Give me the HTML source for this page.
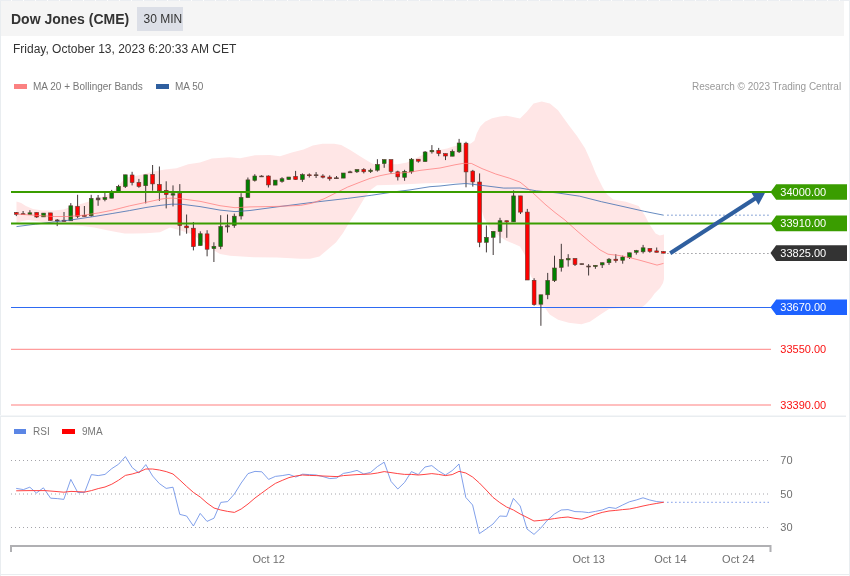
<!DOCTYPE html>
<html><head><meta charset="utf-8"><title>Dow Jones (CME)</title>
<style>
html,body{margin:0;padding:0;background:#fff;}
body{width:850px;height:576px;position:relative;overflow:hidden;font-family:"Liberation Sans",sans-serif;}
svg text{font-family:"Liberation Sans",sans-serif;}
body>*{will-change:transform;}
.frame{position:absolute;left:0;top:0;width:848px;height:576px;box-sizing:content-box;border:1px solid #e9edf0;border-top:none;border-bottom:none;}
.hdr{position:absolute;left:1px;top:1px;width:843px;height:35px;background:#f5f5f5;}
.title{position:absolute;left:11px;top:11px;font-size:14px;font-weight:bold;color:#333;line-height:16px;white-space:nowrap;}
.badge{position:absolute;left:137px;top:7px;width:39.5px;padding-left:6.5px;height:24px;background:#dcdfe7;color:#333;font-size:12px;line-height:24px;text-align:left;white-space:nowrap;}
.date{position:absolute;left:13px;top:41px;font-size:12px;color:#333;line-height:16px;white-space:nowrap;}
.lg{position:absolute;font-size:10px;color:#777;line-height:12px;white-space:nowrap;}
.sw{position:absolute;}
.sep{position:absolute;left:0;top:415px;width:846px;height:1px;background:#f4f6f8;border-bottom:1px solid #e9edf0;}
</style></head><body>
<div class="frame"></div><svg width="850" height="1" style="position:absolute;left:0;top:0"><line x1="0" x2="850" y1="0.5" y2="0.5" stroke="#ebeef2" stroke-width="1" stroke-dasharray="11,1"/></svg>
<div class="hdr"></div>
<div class="title">Dow Jones (CME)</div>
<div class="badge">30 MIN</div>
<div class="date">Friday, October 13, 2023 6:20:33 AM CET</div>
<div class="sw" style="left:13.6px;top:83.8px;width:12.8px;height:5.2px;background:#fb8181"></div>
<div class="lg" style="left:33px;top:81px">MA 20 + Bollinger Bands</div>
<div class="sw" style="left:156px;top:83.8px;width:12.8px;height:5.2px;background:#2f5f9f"></div>
<div class="lg" style="left:175px;top:81px">MA 50</div>
<div class="lg" style="right:9px;top:81px;color:#999">Research © 2023 Trading Central</div>
<div class="sep"></div><div style="position:absolute;left:0;top:574px;width:849px;height:1px;background:#e9edf0"></div>
<div class="sw" style="left:13.7px;top:429px;width:12.4px;height:4.8px;background:#5b86e5"></div>
<div class="lg" style="left:33px;top:426px">RSI</div>
<div class="sw" style="left:62.1px;top:429px;width:12.8px;height:4.8px;background:#ff0000"></div>
<div class="lg" style="left:82px;top:426px">9MA</div>
<svg width="850" height="576" viewBox="0 0 850 576" style="position:absolute;left:0;top:0">
<polygon points="16.5,201.6 21.2,203.1 25.9,205.9 32.9,208.9 42.4,210.6 54.1,210.6 63.5,209.4 70.6,207.1 82.4,203.5 94.1,200.0 105.9,195.3 112.9,191.8 117.6,186.6 122.4,181.2 127.0,177.6 141.2,174.8 152.9,171.8 164.7,169.4 176.5,168.2 188.2,164.2 200.0,162.4 211.8,158.5 229.4,157.2 240.0,158.3 255.0,155.3 270.0,155.1 280.0,156.2 291.8,152.6 303.5,149.6 312.9,145.6 322.4,143.7 334.1,143.7 341.2,144.9 350.6,150.3 360.0,156.2 369.4,162.1 374.1,164.4 383.5,163.9 397.6,164.3 407.0,162.5 415.3,158.4 421.3,155.5 429.5,151.9 439.0,150.1 447.2,148.4 453.1,146.6 461.4,144.8 470.8,143.6 474.4,140.7 476.7,133.6 480.3,126.5 485.0,121.8 492.1,118.3 500.0,116.5 506.5,115.7 520.0,118.5 526.8,111.7 533.6,103.6 541.7,101.4 549.9,103.6 558.0,110.3 568.8,125.2 577.0,136.1 585.0,148.3 590.5,160.5 596.0,174.0 602.7,187.6 606.9,194.2 613.2,199.5 625.9,201.7 638.6,205.9 645.0,215.4 649.2,223.9 655.6,233.4 659.8,235.6 664.0,234.5 664.0,279.0 663.0,283.0 660.0,288.0 654.6,293.5 651.4,298.0 646.0,304.0 643.0,306.5 638.6,308.0 621.7,308.0 609.0,309.1 600.5,314.4 589.9,321.8 581.4,324.3 568.7,322.8 558.1,319.7 549.7,314.4 544.4,307.0 534.0,305.0 533.0,279.6 531.0,276.6 529.0,270.0 526.0,257.0 524.0,253.6 520.0,246.5 512.0,243.0 506.0,240.6 500.0,236.7 491.0,229.6 484.0,217.8 481.5,209.5 479.0,190.0 476.5,184.5 468.2,183.4 458.8,183.0 444.7,183.0 425.9,183.3 411.8,184.0 394.7,184.8 377.0,185.3 371.2,189.4 364.0,198.8 357.0,210.6 350.0,221.2 343.0,232.9 335.9,242.4 326.5,250.6 319.4,256.5 310.0,258.8 300.6,258.8 277.0,257.6 253.5,257.2 230.0,255.8 220.0,254.0 214.0,250.4 207.0,244.0 201.2,241.0 193.0,234.5 180.0,230.3 170.0,227.4 160.0,232.2 145.9,233.2 134.1,233.6 124.7,233.6 117.6,232.2 105.9,229.9 94.1,227.5 82.4,225.9 70.6,225.2 58.8,224.7 47.0,222.8 37.6,221.2 28.2,220.0 21.2,221.2 16.5,223.5" fill="#ffe6e6"/>
<line x1="11" x2="771" y1="349.3" y2="349.3" stroke="#ff9c9c" stroke-width="1.25"/>
<line x1="11" x2="771" y1="405" y2="405" stroke="#ffaaaa" stroke-width="1.5"/>
<line x1="11" x2="771" y1="307.5" y2="307.5" stroke="#2e6af2" stroke-width="1"/>
<line x1="667.1" x2="770" y1="215.15" y2="215.15" stroke="#a6bbe0" stroke-width="1.5" stroke-dasharray="1.7,2.3"/>
<line x1="667.2" x2="770" y1="253.5" y2="253.5" stroke="#94949a" stroke-width="1.15" stroke-dasharray="1.4,2.6"/>
<line x1="16.3" x2="16.3" y1="212.0" y2="216.1" stroke="#403838" stroke-width="1"/>
<rect x="14.4" y="212.5" width="3.8" height="1.8" fill="#ff0000" stroke="#5a3a30" stroke-width="0.6"/>
<line x1="23.1" x2="23.1" y1="211.0" y2="214.7" stroke="#403838" stroke-width="1"/>
<rect x="21.2" y="213.7" width="3.8" height="1.0" fill="#ff0000" stroke="#5a3a30" stroke-width="0.6"/>
<line x1="29.9" x2="29.9" y1="210.2" y2="214.5" stroke="#403838" stroke-width="1"/>
<rect x="28.0" y="212.8" width="3.8" height="1.7" fill="#008000" stroke="#5a3a30" stroke-width="0.6"/>
<line x1="36.7" x2="36.7" y1="212.5" y2="217.9" stroke="#403838" stroke-width="1"/>
<rect x="34.8" y="212.5" width="3.8" height="4.5" fill="#ff0000" stroke="#5a3a30" stroke-width="0.6"/>
<line x1="43.6" x2="43.6" y1="213.1" y2="216.9" stroke="#403838" stroke-width="1"/>
<rect x="41.7" y="213.1" width="3.8" height="3.8" fill="#008000" stroke="#5a3a30" stroke-width="0.6"/>
<line x1="50.4" x2="50.4" y1="212.9" y2="220.4" stroke="#403838" stroke-width="1"/>
<rect x="48.5" y="212.9" width="3.8" height="7.5" fill="#ff0000" stroke="#5a3a30" stroke-width="0.6"/>
<line x1="57.2" x2="57.2" y1="219.0" y2="226.1" stroke="#403838" stroke-width="1"/>
<rect x="55.3" y="220.0" width="3.8" height="0.9" fill="#555050" stroke="#5a3a30" stroke-width="0.6"/>
<line x1="64.0" x2="64.0" y1="212.0" y2="221.4" stroke="#403838" stroke-width="1"/>
<rect x="62.1" y="220.2" width="3.8" height="1.2" fill="#ff0000" stroke="#5a3a30" stroke-width="0.6"/>
<line x1="70.8" x2="70.8" y1="203.1" y2="220.8" stroke="#403838" stroke-width="1"/>
<rect x="68.9" y="205.8" width="3.8" height="15.0" fill="#008000" stroke="#5a3a30" stroke-width="0.6"/>
<line x1="77.6" x2="77.6" y1="194.8" y2="218.1" stroke="#403838" stroke-width="1"/>
<rect x="75.7" y="206.4" width="3.8" height="10.0" fill="#ff0000" stroke="#5a3a30" stroke-width="0.6"/>
<line x1="84.4" x2="84.4" y1="206.0" y2="216.4" stroke="#403838" stroke-width="1"/>
<rect x="82.5" y="215.3" width="3.8" height="1.1" fill="#ff0000" stroke="#5a3a30" stroke-width="0.6"/>
<line x1="91.2" x2="91.2" y1="194.8" y2="216.7" stroke="#403838" stroke-width="1"/>
<rect x="89.3" y="198.4" width="3.8" height="17.3" fill="#008000" stroke="#5a3a30" stroke-width="0.6"/>
<line x1="98.1" x2="98.1" y1="195.0" y2="205.8" stroke="#403838" stroke-width="1"/>
<rect x="96.2" y="198.0" width="3.8" height="1.9" fill="#555050" stroke="#5a3a30" stroke-width="0.6"/>
<line x1="104.9" x2="104.9" y1="193.0" y2="201.3" stroke="#403838" stroke-width="1"/>
<rect x="103.0" y="197.6" width="3.8" height="1.9" fill="#008000" stroke="#5a3a30" stroke-width="0.6"/>
<line x1="111.7" x2="111.7" y1="189.9" y2="198.2" stroke="#403838" stroke-width="1"/>
<rect x="109.8" y="192.5" width="3.8" height="5.7" fill="#008000" stroke="#5a3a30" stroke-width="0.6"/>
<line x1="118.5" x2="118.5" y1="184.8" y2="191.3" stroke="#403838" stroke-width="1"/>
<rect x="116.6" y="186.4" width="3.8" height="4.9" fill="#008000" stroke="#5a3a30" stroke-width="0.6"/>
<line x1="125.3" x2="125.3" y1="174.8" y2="188.0" stroke="#403838" stroke-width="1"/>
<rect x="123.4" y="174.8" width="3.8" height="11.8" fill="#008000" stroke="#5a3a30" stroke-width="0.6"/>
<line x1="132.1" x2="132.1" y1="171.8" y2="185.4" stroke="#403838" stroke-width="1"/>
<rect x="130.2" y="175.0" width="3.8" height="7.5" fill="#ff0000" stroke="#5a3a30" stroke-width="0.6"/>
<line x1="138.9" x2="138.9" y1="178.9" y2="187.8" stroke="#403838" stroke-width="1"/>
<rect x="137.0" y="182.5" width="3.8" height="3.9" fill="#ff0000" stroke="#5a3a30" stroke-width="0.6"/>
<line x1="145.7" x2="145.7" y1="174.8" y2="203.4" stroke="#403838" stroke-width="1"/>
<rect x="143.8" y="174.8" width="3.8" height="10.9" fill="#008000" stroke="#5a3a30" stroke-width="0.6"/>
<line x1="152.6" x2="152.6" y1="165.0" y2="190.7" stroke="#403838" stroke-width="1"/>
<rect x="150.7" y="174.4" width="3.8" height="9.5" fill="#ff0000" stroke="#5a3a30" stroke-width="0.6"/>
<line x1="159.4" x2="159.4" y1="166.5" y2="200.8" stroke="#403838" stroke-width="1"/>
<rect x="157.5" y="184.5" width="3.8" height="6.2" fill="#ff0000" stroke="#5a3a30" stroke-width="0.6"/>
<line x1="166.2" x2="166.2" y1="181.3" y2="208.4" stroke="#403838" stroke-width="1"/>
<rect x="164.3" y="190.4" width="3.8" height="4.2" fill="#ff0000" stroke="#5a3a30" stroke-width="0.6"/>
<line x1="173.0" x2="173.0" y1="185.4" y2="206.4" stroke="#403838" stroke-width="1"/>
<rect x="171.1" y="193.7" width="3.8" height="1.4" fill="#008000" stroke="#5a3a30" stroke-width="0.6"/>
<line x1="179.8" x2="179.8" y1="184.1" y2="235.6" stroke="#403838" stroke-width="1"/>
<rect x="177.9" y="193.6" width="3.8" height="31.9" fill="#ff0000" stroke="#5a3a30" stroke-width="0.6"/>
<line x1="186.6" x2="186.6" y1="214.5" y2="233.7" stroke="#403838" stroke-width="1"/>
<rect x="184.7" y="226.0" width="3.8" height="1.8" fill="#ff0000" stroke="#5a3a30" stroke-width="0.6"/>
<line x1="193.4" x2="193.4" y1="222.0" y2="250.4" stroke="#403838" stroke-width="1"/>
<rect x="191.5" y="228.2" width="3.8" height="18.4" fill="#ff0000" stroke="#5a3a30" stroke-width="0.6"/>
<line x1="200.3" x2="200.3" y1="231.3" y2="245.6" stroke="#403838" stroke-width="1"/>
<rect x="198.4" y="233.7" width="3.8" height="11.9" fill="#008000" stroke="#5a3a30" stroke-width="0.6"/>
<line x1="207.1" x2="207.1" y1="230.2" y2="256.3" stroke="#403838" stroke-width="1"/>
<rect x="205.2" y="233.9" width="3.8" height="15.3" fill="#ff0000" stroke="#5a3a30" stroke-width="0.6"/>
<line x1="213.9" x2="213.9" y1="242.3" y2="262.0" stroke="#403838" stroke-width="1"/>
<rect x="212.0" y="246.3" width="3.8" height="2.3" fill="#008000" stroke="#5a3a30" stroke-width="0.6"/>
<line x1="220.7" x2="220.7" y1="215.2" y2="249.2" stroke="#403838" stroke-width="1"/>
<rect x="218.8" y="226.5" width="3.8" height="20.1" fill="#008000" stroke="#5a3a30" stroke-width="0.6"/>
<line x1="227.5" x2="227.5" y1="214.5" y2="232.6" stroke="#403838" stroke-width="1"/>
<rect x="225.6" y="225.8" width="3.8" height="1.1" fill="#555050" stroke="#5a3a30" stroke-width="0.6"/>
<line x1="234.3" x2="234.3" y1="213.6" y2="227.8" stroke="#403838" stroke-width="1"/>
<rect x="232.4" y="216.2" width="3.8" height="9.2" fill="#008000" stroke="#5a3a30" stroke-width="0.6"/>
<line x1="241.1" x2="241.1" y1="193.2" y2="219.5" stroke="#403838" stroke-width="1"/>
<rect x="239.2" y="197.5" width="3.8" height="18.5" fill="#008000" stroke="#5a3a30" stroke-width="0.6"/>
<line x1="247.9" x2="247.9" y1="177.5" y2="197.6" stroke="#403838" stroke-width="1"/>
<rect x="246.0" y="179.9" width="3.8" height="17.7" fill="#008000" stroke="#5a3a30" stroke-width="0.6"/>
<line x1="254.8" x2="254.8" y1="174.2" y2="181.6" stroke="#403838" stroke-width="1"/>
<rect x="252.9" y="176.0" width="3.8" height="4.4" fill="#008000" stroke="#5a3a30" stroke-width="0.6"/>
<line x1="261.6" x2="261.6" y1="175.2" y2="176.8" stroke="#403838" stroke-width="1"/>
<rect x="259.7" y="176.0" width="3.8" height="0.9" fill="#555050" stroke="#5a3a30" stroke-width="0.6"/>
<line x1="268.4" x2="268.4" y1="175.4" y2="187.5" stroke="#403838" stroke-width="1"/>
<rect x="266.5" y="176.0" width="3.8" height="8.9" fill="#ff0000" stroke="#5a3a30" stroke-width="0.6"/>
<line x1="275.2" x2="275.2" y1="180.1" y2="185.1" stroke="#403838" stroke-width="1"/>
<rect x="273.3" y="180.1" width="3.8" height="5.0" fill="#008000" stroke="#5a3a30" stroke-width="0.6"/>
<line x1="282.0" x2="282.0" y1="177.2" y2="182.7" stroke="#403838" stroke-width="1"/>
<rect x="280.1" y="178.7" width="3.8" height="2.6" fill="#008000" stroke="#5a3a30" stroke-width="0.6"/>
<line x1="288.8" x2="288.8" y1="177.0" y2="179.6" stroke="#403838" stroke-width="1"/>
<rect x="286.9" y="177.0" width="3.8" height="2.6" fill="#008000" stroke="#5a3a30" stroke-width="0.6"/>
<line x1="295.6" x2="295.6" y1="170.9" y2="179.6" stroke="#403838" stroke-width="1"/>
<rect x="293.7" y="176.4" width="3.8" height="3.2" fill="#ff0000" stroke="#5a3a30" stroke-width="0.6"/>
<line x1="302.4" x2="302.4" y1="173.4" y2="181.9" stroke="#403838" stroke-width="1"/>
<rect x="300.5" y="174.6" width="3.8" height="5.0" fill="#008000" stroke="#5a3a30" stroke-width="0.6"/>
<line x1="309.3" x2="309.3" y1="173.4" y2="177.5" stroke="#403838" stroke-width="1"/>
<rect x="307.4" y="174.8" width="3.8" height="0.9" fill="#ff0000" stroke="#5a3a30" stroke-width="0.6"/>
<line x1="316.1" x2="316.1" y1="172.1" y2="178.0" stroke="#403838" stroke-width="1"/>
<rect x="314.2" y="174.8" width="3.8" height="0.9" fill="#555050" stroke="#5a3a30" stroke-width="0.6"/>
<line x1="322.9" x2="322.9" y1="174.2" y2="178.4" stroke="#403838" stroke-width="1"/>
<rect x="321.0" y="176.0" width="3.8" height="1.2" fill="#ff0000" stroke="#5a3a30" stroke-width="0.6"/>
<line x1="329.7" x2="329.7" y1="175.4" y2="180.7" stroke="#403838" stroke-width="1"/>
<rect x="327.8" y="177.1" width="3.8" height="1.7" fill="#ff0000" stroke="#5a3a30" stroke-width="0.6"/>
<line x1="336.5" x2="336.5" y1="176.0" y2="178.7" stroke="#403838" stroke-width="1"/>
<rect x="334.6" y="177.8" width="3.8" height="0.9" fill="#555050" stroke="#5a3a30" stroke-width="0.6"/>
<line x1="343.3" x2="343.3" y1="173.0" y2="178.1" stroke="#403838" stroke-width="1"/>
<rect x="341.4" y="173.0" width="3.8" height="5.1" fill="#008000" stroke="#5a3a30" stroke-width="0.6"/>
<line x1="350.1" x2="350.1" y1="170.7" y2="172.8" stroke="#403838" stroke-width="1"/>
<rect x="348.2" y="171.8" width="3.8" height="1.0" fill="#555050" stroke="#5a3a30" stroke-width="0.6"/>
<line x1="356.9" x2="356.9" y1="169.5" y2="173.0" stroke="#403838" stroke-width="1"/>
<rect x="355.1" y="169.5" width="3.8" height="2.3" fill="#008000" stroke="#5a3a30" stroke-width="0.6"/>
<line x1="363.8" x2="363.8" y1="168.1" y2="173.4" stroke="#403838" stroke-width="1"/>
<rect x="361.9" y="169.5" width="3.8" height="2.3" fill="#ff0000" stroke="#5a3a30" stroke-width="0.6"/>
<line x1="370.6" x2="370.6" y1="168.6" y2="173.0" stroke="#403838" stroke-width="1"/>
<rect x="368.7" y="170.2" width="3.8" height="1.4" fill="#008000" stroke="#5a3a30" stroke-width="0.6"/>
<line x1="377.4" x2="377.4" y1="159.2" y2="171.6" stroke="#403838" stroke-width="1"/>
<rect x="375.5" y="164.5" width="3.8" height="5.7" fill="#008000" stroke="#5a3a30" stroke-width="0.6"/>
<line x1="384.2" x2="384.2" y1="159.6" y2="167.8" stroke="#403838" stroke-width="1"/>
<rect x="382.3" y="159.6" width="3.8" height="4.0" fill="#008000" stroke="#5a3a30" stroke-width="0.6"/>
<line x1="391.0" x2="391.0" y1="159.6" y2="173.7" stroke="#403838" stroke-width="1"/>
<rect x="389.1" y="159.6" width="3.8" height="11.8" fill="#ff0000" stroke="#5a3a30" stroke-width="0.6"/>
<line x1="397.8" x2="397.8" y1="170.7" y2="180.5" stroke="#403838" stroke-width="1"/>
<rect x="395.9" y="171.8" width="3.8" height="5.1" fill="#ff0000" stroke="#5a3a30" stroke-width="0.6"/>
<line x1="404.6" x2="404.6" y1="169.8" y2="180.8" stroke="#403838" stroke-width="1"/>
<rect x="402.7" y="171.4" width="3.8" height="5.9" fill="#008000" stroke="#5a3a30" stroke-width="0.6"/>
<line x1="411.5" x2="411.5" y1="158.0" y2="173.7" stroke="#403838" stroke-width="1"/>
<rect x="409.6" y="159.2" width="3.8" height="12.6" fill="#008000" stroke="#5a3a30" stroke-width="0.6"/>
<line x1="418.3" x2="418.3" y1="159.2" y2="162.7" stroke="#403838" stroke-width="1"/>
<rect x="416.4" y="159.2" width="3.8" height="2.0" fill="#ff0000" stroke="#5a3a30" stroke-width="0.6"/>
<line x1="425.1" x2="425.1" y1="151.0" y2="161.6" stroke="#403838" stroke-width="1"/>
<rect x="423.2" y="152.0" width="3.8" height="9.6" fill="#008000" stroke="#5a3a30" stroke-width="0.6"/>
<line x1="431.9" x2="431.9" y1="145.1" y2="153.6" stroke="#403838" stroke-width="1"/>
<rect x="430.0" y="150.3" width="3.8" height="1.5" fill="#008000" stroke="#5a3a30" stroke-width="0.6"/>
<line x1="438.7" x2="438.7" y1="147.9" y2="156.2" stroke="#403838" stroke-width="1"/>
<rect x="436.8" y="150.3" width="3.8" height="3.3" fill="#ff0000" stroke="#5a3a30" stroke-width="0.6"/>
<line x1="445.5" x2="445.5" y1="153.6" y2="160.1" stroke="#403838" stroke-width="1"/>
<rect x="443.6" y="153.6" width="3.8" height="2.4" fill="#ff0000" stroke="#5a3a30" stroke-width="0.6"/>
<line x1="452.3" x2="452.3" y1="149.5" y2="156.2" stroke="#403838" stroke-width="1"/>
<rect x="450.4" y="151.3" width="3.8" height="4.9" fill="#008000" stroke="#5a3a30" stroke-width="0.6"/>
<line x1="459.1" x2="459.1" y1="138.9" y2="153.0" stroke="#403838" stroke-width="1"/>
<rect x="457.2" y="143.0" width="3.8" height="8.8" fill="#008000" stroke="#5a3a30" stroke-width="0.6"/>
<line x1="466.0" x2="466.0" y1="141.8" y2="187.3" stroke="#403838" stroke-width="1"/>
<rect x="464.1" y="143.2" width="3.8" height="28.7" fill="#ff0000" stroke="#5a3a30" stroke-width="0.6"/>
<line x1="472.8" x2="472.8" y1="169.9" y2="186.6" stroke="#403838" stroke-width="1"/>
<rect x="470.9" y="171.1" width="3.8" height="10.8" fill="#ff0000" stroke="#5a3a30" stroke-width="0.6"/>
<line x1="479.6" x2="479.6" y1="173.4" y2="247.2" stroke="#403838" stroke-width="1"/>
<rect x="477.7" y="182.0" width="3.8" height="60.3" fill="#ff0000" stroke="#5a3a30" stroke-width="0.6"/>
<line x1="486.4" x2="486.4" y1="225.5" y2="252.4" stroke="#403838" stroke-width="1"/>
<rect x="484.5" y="237.3" width="3.8" height="5.0" fill="#008000" stroke="#5a3a30" stroke-width="0.6"/>
<line x1="493.2" x2="493.2" y1="231.3" y2="255.0" stroke="#403838" stroke-width="1"/>
<rect x="491.3" y="231.3" width="3.8" height="6.0" fill="#008000" stroke="#5a3a30" stroke-width="0.6"/>
<line x1="500.0" x2="500.0" y1="217.8" y2="243.2" stroke="#403838" stroke-width="1"/>
<rect x="498.1" y="220.7" width="3.8" height="10.7" fill="#008000" stroke="#5a3a30" stroke-width="0.6"/>
<line x1="506.8" x2="506.8" y1="220.7" y2="237.8" stroke="#403838" stroke-width="1"/>
<rect x="504.9" y="220.7" width="3.8" height="1.2" fill="#ff0000" stroke="#5a3a30" stroke-width="0.6"/>
<line x1="513.6" x2="513.6" y1="190.4" y2="221.9" stroke="#403838" stroke-width="1"/>
<rect x="511.7" y="195.9" width="3.8" height="26.0" fill="#008000" stroke="#5a3a30" stroke-width="0.6"/>
<line x1="520.5" x2="520.5" y1="195.9" y2="214.0" stroke="#403838" stroke-width="1"/>
<rect x="518.6" y="195.9" width="3.8" height="16.2" fill="#ff0000" stroke="#5a3a30" stroke-width="0.6"/>
<line x1="527.3" x2="527.3" y1="208.9" y2="280.0" stroke="#403838" stroke-width="1"/>
<rect x="525.4" y="212.1" width="3.8" height="67.9" fill="#ff0000" stroke="#5a3a30" stroke-width="0.6"/>
<line x1="534.1" x2="534.1" y1="278.2" y2="305.7" stroke="#403838" stroke-width="1"/>
<rect x="532.2" y="280.3" width="3.8" height="24.3" fill="#ff0000" stroke="#5a3a30" stroke-width="0.6"/>
<line x1="540.9" x2="540.9" y1="294.8" y2="325.8" stroke="#403838" stroke-width="1"/>
<rect x="539.0" y="294.8" width="3.8" height="9.4" fill="#008000" stroke="#5a3a30" stroke-width="0.6"/>
<line x1="547.7" x2="547.7" y1="272.9" y2="299.2" stroke="#403838" stroke-width="1"/>
<rect x="545.8" y="280.4" width="3.8" height="14.4" fill="#008000" stroke="#5a3a30" stroke-width="0.6"/>
<line x1="554.5" x2="554.5" y1="255.7" y2="282.0" stroke="#403838" stroke-width="1"/>
<rect x="552.6" y="268.0" width="3.8" height="12.6" fill="#008000" stroke="#5a3a30" stroke-width="0.6"/>
<line x1="561.3" x2="561.3" y1="243.8" y2="271.6" stroke="#403838" stroke-width="1"/>
<rect x="559.4" y="259.4" width="3.8" height="8.0" fill="#008000" stroke="#5a3a30" stroke-width="0.6"/>
<line x1="568.2" x2="568.2" y1="254.2" y2="266.6" stroke="#403838" stroke-width="1"/>
<rect x="566.3" y="258.5" width="3.8" height="1.4" fill="#008000" stroke="#5a3a30" stroke-width="0.6"/>
<line x1="575.0" x2="575.0" y1="258.5" y2="266.0" stroke="#403838" stroke-width="1"/>
<rect x="573.1" y="258.5" width="3.8" height="6.1" fill="#ff0000" stroke="#5a3a30" stroke-width="0.6"/>
<line x1="581.8" x2="581.8" y1="263.7" y2="264.6" stroke="#403838" stroke-width="1"/>
<rect x="579.9" y="263.7" width="3.8" height="0.9" fill="#555050" stroke="#5a3a30" stroke-width="0.6"/>
<line x1="588.6" x2="588.6" y1="264.1" y2="275.5" stroke="#403838" stroke-width="1"/>
<rect x="586.7" y="266.0" width="3.8" height="1.0" fill="#555050" stroke="#5a3a30" stroke-width="0.6"/>
<line x1="595.4" x2="595.4" y1="265.3" y2="268.8" stroke="#403838" stroke-width="1"/>
<rect x="593.5" y="265.3" width="3.8" height="1.3" fill="#008000" stroke="#5a3a30" stroke-width="0.6"/>
<line x1="602.2" x2="602.2" y1="262.7" y2="268.0" stroke="#403838" stroke-width="1"/>
<rect x="600.3" y="262.7" width="3.8" height="2.2" fill="#008000" stroke="#5a3a30" stroke-width="0.6"/>
<line x1="609.0" x2="609.0" y1="258.0" y2="264.9" stroke="#403838" stroke-width="1"/>
<rect x="607.1" y="259.2" width="3.8" height="3.5" fill="#008000" stroke="#5a3a30" stroke-width="0.6"/>
<line x1="615.8" x2="615.8" y1="254.2" y2="262.7" stroke="#403838" stroke-width="1"/>
<rect x="613.9" y="259.2" width="3.8" height="1.4" fill="#ff0000" stroke="#5a3a30" stroke-width="0.6"/>
<line x1="622.7" x2="622.7" y1="255.6" y2="263.7" stroke="#403838" stroke-width="1"/>
<rect x="620.8" y="257.0" width="3.8" height="3.3" fill="#008000" stroke="#5a3a30" stroke-width="0.6"/>
<line x1="629.5" x2="629.5" y1="252.8" y2="258.9" stroke="#403838" stroke-width="1"/>
<rect x="627.6" y="252.8" width="3.8" height="4.7" fill="#008000" stroke="#5a3a30" stroke-width="0.6"/>
<line x1="636.3" x2="636.3" y1="249.9" y2="254.6" stroke="#403838" stroke-width="1"/>
<rect x="634.4" y="250.6" width="3.8" height="1.7" fill="#008000" stroke="#5a3a30" stroke-width="0.6"/>
<line x1="643.1" x2="643.1" y1="244.9" y2="253.5" stroke="#403838" stroke-width="1"/>
<rect x="641.2" y="247.8" width="3.8" height="4.0" fill="#008000" stroke="#5a3a30" stroke-width="0.6"/>
<line x1="649.9" x2="649.9" y1="248.5" y2="252.8" stroke="#403838" stroke-width="1"/>
<rect x="648.0" y="248.5" width="3.8" height="2.8" fill="#ff0000" stroke="#5a3a30" stroke-width="0.6"/>
<line x1="656.7" x2="656.7" y1="247.5" y2="252.3" stroke="#403838" stroke-width="1"/>
<rect x="654.8" y="250.9" width="3.8" height="1.4" fill="#ff0000" stroke="#5a3a30" stroke-width="0.6"/>
<line x1="663.5" x2="663.5" y1="251.5" y2="253.2" stroke="#403838" stroke-width="1"/>
<rect x="661.6" y="251.5" width="3.8" height="1.7" fill="#ff0000" stroke="#5a3a30" stroke-width="0.6"/>
<polyline points="16.5,226.6 35.3,224.2 54.1,221.9 70.6,220.0 94.1,216.5 112.9,213.4 129.4,210.6 145.9,207.5 160.0,205.4 171.8,204.2 181.2,204.2 200.0,206.6 220.0,210.1 235.0,211.6 250.0,210.5 277.0,206.9 312.4,202.4 347.6,198.4 371.2,195.3 394.7,191.8 410.0,189.9 430.0,186.7 440.0,186.0 455.0,184.3 465.8,183.5 482.0,185.4 503.8,188.1 520.0,188.0 536.3,190.8 558.0,193.0 579.7,196.2 601.4,201.7 623.0,206.5 644.7,211.4 663.7,215.2" fill="none" stroke="#3f6db0" stroke-width="0.8"/>
<polyline points="16.5,214.1 35.3,215.3 54.1,216.5 68.2,216.5 82.4,215.3 98.8,212.9 112.9,210.1 129.4,205.9 145.9,202.4 160.0,199.3 166.0,198.4 172.0,198.1 181.2,198.8 200.0,201.3 220.0,205.7 235.0,207.7 250.0,206.9 277.0,206.4 300.6,205.4 312.4,203.1 324.0,198.8 335.9,192.9 347.6,187.1 360.0,182.2 370.0,178.4 380.0,175.7 390.0,173.7 400.0,173.0 410.0,172.2 420.0,170.4 430.0,169.2 440.0,168.0 455.0,164.8 463.0,163.4 471.3,163.4 482.0,168.6 495.7,174.0 509.2,178.1 520.0,182.1 527.0,187.7 535.0,194.8 545.0,204.2 555.0,212.5 565.0,220.1 577.0,230.9 590.0,242.0 600.0,249.9 608.0,254.2 620.0,255.6 630.0,257.7 640.0,260.3 650.0,263.1 657.0,265.1 663.5,263.4" fill="none" stroke="#ff7b7b" stroke-width="0.75"/>
<line x1="11" x2="772" y1="223.45" y2="223.45" stroke="#3a9d00" stroke-width="2.1"/>
<line x1="670.2" y1="253.3" x2="755.5" y2="198.3" stroke="#2f5f9f" stroke-width="4"/>
<polygon points="765.7,191.6 750.9,191.8 758.5,205.1" fill="#2f5f9f"/>
<line x1="11" x2="772" y1="192" y2="192" stroke="#3a9d00" stroke-width="2"/>
<polygon points="770.5,192 776.2,184.2 847,184.2 847,199.8 776.2,199.8" fill="#3a9d00"/>
<text x="780.3" y="196.0" font-size="11" fill="#fff">34000.00</text>
<polygon points="770.5,223.4 776.2,215.6 847,215.6 847,231.2 776.2,231.2" fill="#3a9d00"/>
<text x="780.3" y="227.4" font-size="11" fill="#fff">33910.00</text>
<polygon points="770.5,253.1 776.2,245.3 847,245.3 847,260.9 776.2,260.9" fill="#333333"/>
<text x="780.3" y="257.1" font-size="11" fill="#fff">33825.00</text>
<polygon points="770.5,307.2 776.2,299.4 847,299.4 847,315.0 776.2,315.0" fill="#1e62ff"/>
<text x="780.3" y="311.2" font-size="11" fill="#fff">33670.00</text>
<text x="780.3" y="353.2" font-size="11" fill="#fa1212">33550.00</text>
<text x="780.3" y="409.3" font-size="11" fill="#fa1212">33390.00</text>
<line x1="11" x2="769" y1="460.5" y2="460.5" stroke="#a4a4aa" stroke-width="1" stroke-dasharray="1,3"/>
<line x1="11" x2="769" y1="494.0" y2="494.0" stroke="#a4a4aa" stroke-width="1" stroke-dasharray="1,3"/>
<line x1="11" x2="769" y1="527.5" y2="527.5" stroke="#a4a4aa" stroke-width="1" stroke-dasharray="1,3"/>
<line x1="667" x2="769" y1="502.3" y2="502.3" stroke="#9db3ee" stroke-width="1.35" stroke-dasharray="1.6,2.42"/>
<polyline points="16.2,488.4 23.4,489.6 29.8,487.2 36.4,493.0 43.4,487.8 50.6,498.2 57.4,498.6 63.8,499.4 70.8,479.4 77.8,492.6 84.6,492.4 91.4,474.6 98.2,475.6 105.0,474.4 111.8,468.6 118.6,464.2 125.4,456.6 132.2,467.6 139.0,473.0 145.8,464.6 152.6,476.0 159.4,483.6 166.2,488.4 173.0,487.2 179.8,514.4 186.6,516.0 193.4,526.0 200.2,513.4 207.0,521.4 214.0,518.2 220.8,502.4 227.6,501.6 234.4,494.0 241.2,483.0 248.0,473.6 255.0,471.4 261.8,471.8 268.6,479.4 275.4,476.4 282.2,475.6 289.0,474.4 295.8,477.0 302.6,474.2 309.4,474.6 316.2,475.0 323.0,476.6 329.8,478.6 336.6,478.0 343.4,473.4 350.2,472.2 357.0,470.4 363.8,474.0 370.6,472.4 377.4,466.6 384.2,462.2 391.0,481.4 397.8,489.0 404.6,482.4 411.4,471.6 418.2,474.6 425.0,467.0 431.8,465.6 438.6,471.0 445.4,475.0 452.2,470.6 459.0,464.0 465.8,497.4 472.6,505.0 479.4,533.6 486.2,529.0 493.0,524.0 499.8,516.0 506.6,516.4 513.4,498.4 520.2,506.0 527.0,529.0 534.0,534.4 540.8,528.0 547.6,520.0 554.4,514.0 561.2,510.0 568.0,509.6 575.0,511.6 581.8,511.8 588.6,512.6 595.4,511.4 602.2,510.0 609.0,507.4 615.8,508.4 622.6,505.0 629.4,501.8 636.2,500.0 643.0,497.8 649.8,500.0 656.8,501.6 663.8,502.2" fill="none" stroke="#6a8fe6" stroke-width="0.85"/>
<polyline points="16.2,490.8 29.0,490.6 45.0,490.6 55.0,491.4 63.8,492.2 71.0,491.4 85.0,492.0 91.4,490.6 98.2,488.6 105.0,487.0 111.8,484.2 118.6,480.2 125.4,475.4 132.2,474.0 139.0,472.0 145.8,469.0 152.6,469.0 159.4,470.0 166.2,471.6 173.0,474.0 179.8,480.0 186.6,486.4 193.4,492.4 200.2,497.0 207.0,503.0 214.0,508.0 220.8,510.0 227.6,511.4 234.4,512.4 241.2,509.0 248.0,504.0 255.0,498.0 261.8,493.0 268.6,488.0 275.4,483.4 282.2,480.4 289.0,477.6 295.8,476.0 302.6,475.0 309.4,475.4 316.2,475.6 323.0,476.0 337.0,476.6 343.4,475.6 357.0,474.6 370.6,474.0 377.4,473.0 384.2,471.6 391.0,472.6 397.8,473.6 404.6,474.4 411.4,474.4 418.2,475.0 425.0,474.4 431.8,473.6 438.6,474.4 445.4,475.6 452.2,474.6 459.0,471.4 465.8,473.0 472.6,477.0 479.4,483.0 486.2,490.0 493.0,497.4 499.8,502.6 506.6,507.0 513.4,510.0 520.2,514.0 527.0,517.4 534.0,521.0 540.8,520.4 547.6,519.6 554.4,518.6 561.2,517.6 568.0,517.0 575.0,518.4 581.8,519.2 588.6,517.0 595.4,514.4 602.2,512.4 609.0,511.0 615.8,510.4 622.6,509.6 629.4,509.0 636.2,507.6 643.0,506.0 649.8,504.6 656.8,503.4 663.8,502.2" fill="none" stroke="#ff3a3a" stroke-width="0.95"/>
<polyline points="11,552 11,546 770.5,546 770.5,552" fill="none" stroke="#b0b0b3" stroke-width="2"/>
<text x="780.3" y="464" font-size="11" fill="#707070">70</text>
<text x="780.3" y="498" font-size="11" fill="#707070">50</text>
<text x="780.3" y="531" font-size="11" fill="#707070">30</text>
<text x="268.7" y="563.2" font-size="11" fill="#707070" text-anchor="middle">Oct 12</text>
<text x="588.7" y="563.2" font-size="11" fill="#707070" text-anchor="middle">Oct 13</text>
<text x="670.5" y="563.2" font-size="11" fill="#707070" text-anchor="middle">Oct 14</text>
<text x="738.3" y="563.2" font-size="11" fill="#707070" text-anchor="middle">Oct 24</text>
</svg>
</body></html>
